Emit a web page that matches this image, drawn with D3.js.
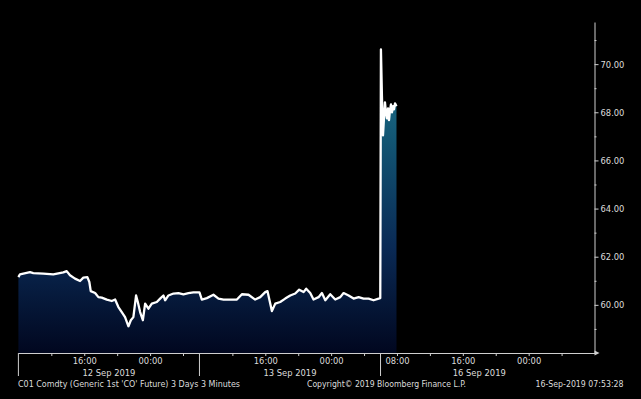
<!DOCTYPE html>
<html>
<head>
<meta charset="utf-8">
<script src="https://cdn.jsdelivr.net/npm/d3@7"></script>
<style>
  html, body { margin: 0; padding: 0; background: #000; }
  svg { display: block; }
  text { font-family: "DejaVu Sans Condensed", "DejaVu Sans", sans-serif; font-size: 9.3px; fill: #dcdcdc; }
</style>
</head>
<body>
<svg id="chart" width="641" height="399"></svg>
<script>
// trading hours counted from 12 Sep 2019 08:00 (non-trading gaps removed, as Bloomberg does)
const hours = [
  0, 0.19, 1.41, 1.81, 3.03, 4.24, 5.46, 5.87, 6.27, 6.88, 7.49, 7.89, 8.38, 8.62, 8.79,
  9.32, 9.72, 10.13, 10.74, 11.35, 11.75, 12.15, 12.56, 12.96, 13.37, 13.66, 13.97, 14.3,
  14.51, 14.79, 15.12, 15.4, 15.8, 16.21, 16.82, 17.22, 17.62, 17.83, 18.23, 18.84, 19.45,
  20.05, 20.66, 21.27, 22.0, 22.29, 22.9, 23.7, 24.31, 24.92, 25.73, 26.55, 27.16, 27.96,
  28.77, 29.38, 29.99, 30.27, 30.51, 30.8, 31.21, 31.81, 32.42, 33.03, 33.64, 34.12, 34.65,
  34.97, 35.46, 35.86, 36.47, 36.88, 37.29, 37.89, 38.5, 39.11, 39.51, 40.12, 40.73, 41.34,
  41.94, 42.55, 43.16, 43.77, 43.97,
  44.05, 44.17, 44.3, 44.42, 44.54, 44.66, 44.78, 44.91, 45.03, 45.15, 45.27, 45.39, 45.52,
  45.64, 45.76, 45.94
];
const prices = [
  61.15, 61.27, 61.36, 61.32, 61.3, 61.27, 61.35, 61.4, 61.23, 61.09, 60.99, 61.13, 61.15, 60.95, 60.57,
  60.49, 60.32, 60.3, 60.22, 60.16, 60.22, 59.91, 59.7, 59.49, 59.11, 59.36, 59.49, 60.39,
  60.12, 59.7, 59.36, 60.05, 59.84, 60.05, 60.12, 60.26, 60.39, 60.19, 60.39, 60.47, 60.49,
  60.44, 60.49, 60.52, 60.52, 60.22, 60.28, 60.42, 60.26, 60.22, 60.22, 60.22, 60.44, 60.42,
  60.22, 60.32, 60.53, 60.57, 60.19, 59.74, 60.05, 60.12, 60.26, 60.39, 60.47, 60.63, 60.53,
  60.67, 60.49, 60.22, 60.32, 60.49, 60.19, 60.44, 60.22, 60.32, 60.49, 60.39, 60.26, 60.32,
  60.26, 60.26, 60.19, 60.26, 60.28,
  70.61, 68.7, 67.04, 67.75, 68.41, 68.0, 67.75, 68.16, 67.67, 68.08, 68.33, 68.0, 68.25,
  68.12, 68.37, 68.25
];

// x axis ticks
const tickHours = [4, 8, 12, 16, 20, 26, 30, 34, 38, 42, 46, 50, 54, 58, 62, 66];
const tickLabels = { 8: "16:00", 16: "00:00", 30: "16:00", 38: "00:00", 46: "08:00", 54: "16:00", 62: "00:00" };
const dayStarts = [0, 22, 44];
const dayMids = [11, 33, 56];
const dayLabels = ["12 Sep 2019", "13 Sep 2019", "16 Sep 2019"];

// y axis ticks
const yTicks = [59, 60, 61, 62, 63, 64, 65, 66, 67, 68, 69, 70, 71];

const footLeft = "C01 Comdty (Generic 1st 'CO' Future) 3 Days 3 Minutes";
const footMid = "Copyright\u00a9 2019 Bloomberg Finance L.P.";
const footRight = "16-Sep-2019 07:53:28";

const svg = d3.select("#chart");
const data = hours.map((h, i) => ({ h: h, v: prices[i] }));

const x = d3.scaleLinear().domain([0, 70]).range([18.4, 594.5]);
const y = d3.scaleLinear().domain([58, 71.75]).range([353, 22]);

// area gradient, teal at the top fading to dark navy
const grad = svg.append("defs").append("linearGradient")
  .attr("id", "fill")
  .attr("gradientUnits", "userSpaceOnUse")
  .attr("x1", 0).attr("x2", 0)
  .attr("y1", y(70.6)).attr("y2", y(58));
grad.append("stop").attr("offset", 0).attr("stop-color", "#24788e");
grad.append("stop").attr("offset", 0.3).attr("stop-color", "#125573");
grad.append("stop").attr("offset", 0.65).attr("stop-color", "#0a2a55");
grad.append("stop").attr("offset", 1).attr("stop-color", "#01071f");

const area = d3.area().x((d) => x(d.h)).y0(y(58)).y1((d) => y(d.v));
const line = d3.line().x((d) => x(d.h)).y((d) => y(d.v));

svg.append("path").datum(data).attr("d", area).attr("fill", "url(#fill)");
svg.append("path").datum(data).attr("d", line)
  .attr("fill", "none").attr("stroke", "#ffffff").attr("stroke-width", 2.3)
  .attr("stroke-linejoin", "round");

// x axis
const xG = svg.append("g").attr("transform", `translate(0,${y(58)})`)
  .call(d3.axisBottom(x).tickValues(tickHours).tickSize(3).tickSizeOuter(0)
    .tickFormat((d) => tickLabels[d] || ""));
xG.select(".domain").attr("stroke", "#cfcfcf");
xG.selectAll(".tick line").attr("stroke", "#cfcfcf");
xG.selectAll(".tick text").attr("y", 11).attr("dy", null)
  .attr("font-family", null).attr("font-size", null).attr("fill", null);

// day separators and labels
svg.append("g").selectAll("line").data(dayStarts).join("line")
  .attr("x1", (d) => x(d)).attr("x2", (d) => x(d))
  .attr("y1", y(58)).attr("y2", 376)
  .attr("stroke", "#cfcfcf");
svg.append("g").selectAll("text").data(dayLabels).join("text")
  .attr("x", (d, i) => x(dayMids[i])).attr("y", 375.5)
  .attr("text-anchor", "middle").text((d) => d);

// arrow at end of x axis
svg.append("path")
  .attr("d", `M${x(70)},${y(58) - 2.5}L${x(70) + 5},${y(58)}L${x(70)},${y(58) + 2.5}Z`)
  .attr("fill", "#cfcfcf");

// y axis on the right
const yG = svg.append("g").attr("transform", `translate(${x(70)},0)`)
  .call(d3.axisRight(y).tickValues(yTicks).tickSizeOuter(0)
    .tickFormat((d) => (d % 2 === 0 ? d3.format(".2f")(d) : "")));
yG.select(".domain").attr("stroke", "#cfcfcf");
yG.selectAll(".tick line").attr("stroke", "#cfcfcf")
  .attr("x2", (d) => (d % 2 === 0 ? 4 : 2));
yG.selectAll(".tick text").attr("x", 6)
  .attr("font-family", null).attr("font-size", null).attr("fill", null);

// footer
svg.append("text").attr("x", 18).attr("y", 386.5)
  .attr("textLength", 222).attr("lengthAdjust", "spacingAndGlyphs").text(footLeft);
svg.append("text").attr("x", 307).attr("y", 386.5)
  .attr("textLength", 159).attr("lengthAdjust", "spacingAndGlyphs").text(footMid);
svg.append("text").attr("x", 535.5).attr("y", 386.5)
  .attr("textLength", 88).attr("lengthAdjust", "spacingAndGlyphs").text(footRight);
</script>
</body>
</html>
